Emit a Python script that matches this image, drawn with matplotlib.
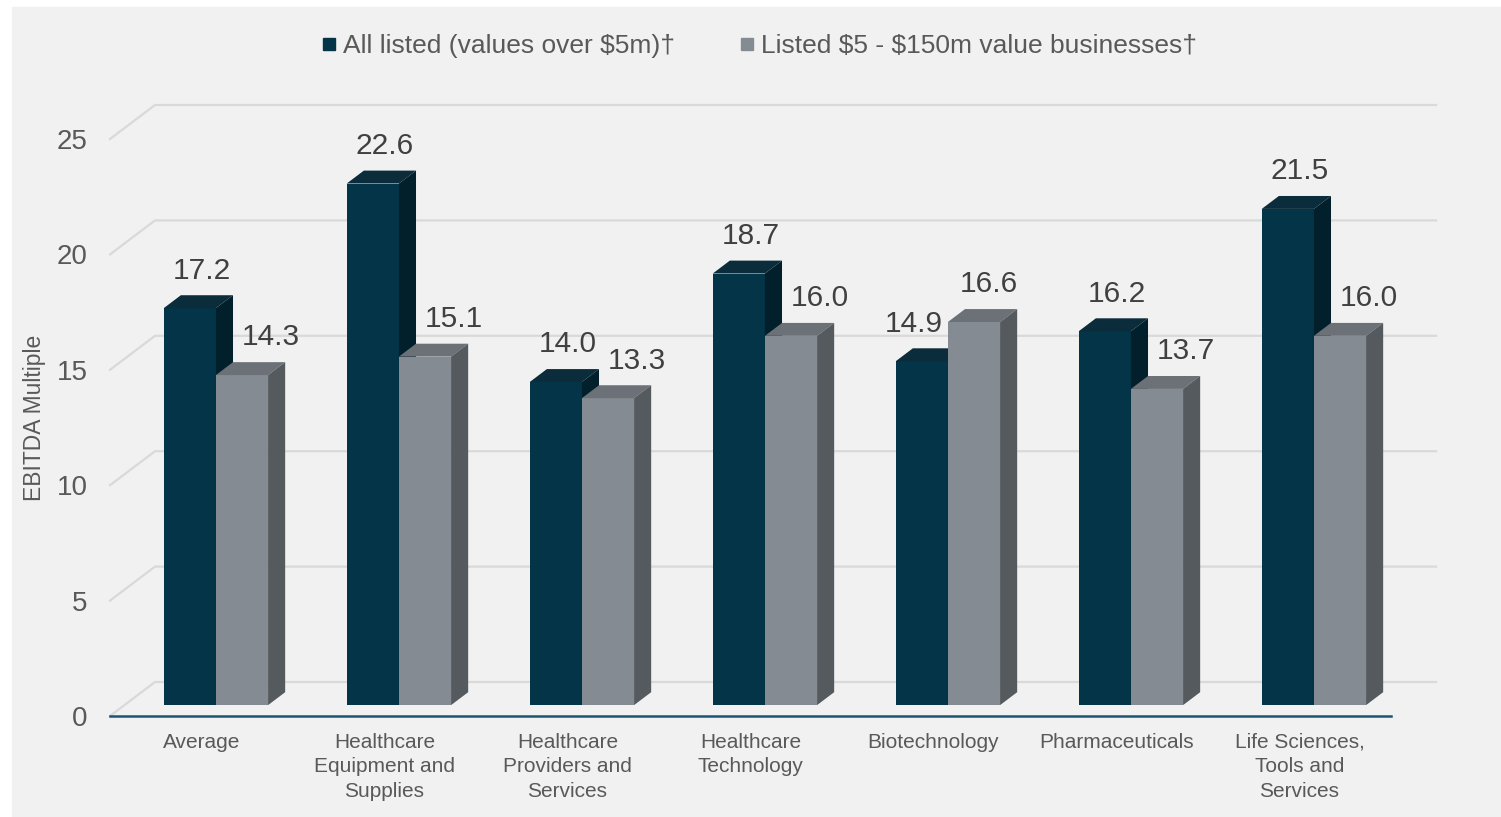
import matplotlib.pyplot as plt
from matplotlib.patches import Polygon, Rectangle
from matplotlib.lines import Line2D

plt.rcParams['font.family'] = ['Liberation Sans', 'DejaVu Sans']

categories = ['Average', 'Healthcare\nEquipment and\nSupplies',
              'Healthcare\nProviders and\nServices', 'Healthcare\nTechnology',
              'Biotechnology', 'Pharmaceuticals',
              'Life Sciences,\nTools and\nServices']
all_listed = [17.2, 22.6, 14.0, 18.7, 14.9, 16.2, 21.5]
small_listed = [14.3, 15.1, 13.3, 16.0, 16.6, 13.7, 16.0]
series_names = ['All listed (values over \\$5m)\u2020',
                'Listed \\$5 - \\$150m value businesses\u2020']
yticks = [0, 5, 10, 15, 20, 25]

# face colours: front, top, side
dark = ('#033447', '#0b2c3a', '#01202b')
grey = ('#858b92', '#6b7176', '#555a5f')

# fake 3d depth (in data units) of the whole floor, and where bars sit in it
DX, DY = 0.246, 1.473
d0, d1 = 0.32, 0.70
bar_w = 0.285


def draw_bar(ax, x, h, cols, z):
    """front face through ax.bar, top and side as polygons"""
    fx, fy = d0 * DX, d0 * DY
    bx, by = (d1 - d0) * DX, (d1 - d0) * DY
    x0 = x + fx
    ax.bar(x0, h, bar_w, bottom=fy, align='edge', color=cols[0],
           zorder=z, linewidth=0)
    top = [(x0, fy + h), (x0 + bar_w, fy + h),
           (x0 + bar_w + bx, fy + h + by), (x0 + bx, fy + h + by)]
    side = [(x0 + bar_w, fy), (x0 + bar_w + bx, fy + by),
            (x0 + bar_w + bx, fy + h + by), (x0 + bar_w, fy + h)]
    ax.add_patch(Polygon(top, closed=True, color=cols[1], zorder=z, lw=0))
    ax.add_patch(Polygon(side, closed=True, color=cols[2], zorder=z, lw=0))


fig = plt.figure(figsize=(15.01, 8.17), dpi=100, facecolor='white')
fig.patches.append(Rectangle((12 / 1501, 0), 1, 1 - 7 / 817,
                             transform=fig.transFigure, color='#f1f1f1',
                             zorder=-5))
ax = fig.add_axes([110 / 1501, 101 / 817, 1281 / 1501, 577 / 817])
ax.set_facecolor('none')
ax.set_xlim(-0.5, 6.5)
ax.set_ylim(0, 25)

n = len(categories)
# gridlines: short diagonal on the left wall + line along the back wall
for v in yticks:
    ax.plot([-0.5, -0.5 + DX, n - 0.5 + DX], [v, v + DY, v + DY],
            color='#d9d9d9', lw=1.6, clip_on=False, zorder=1)

for i in range(n):
    draw_bar(ax, i - bar_w, all_listed[i], dark, 3)
    draw_bar(ax, i, small_listed[i], grey, 4)
    # labels get pushed left when the grey bar is the taller one
    shift = 0.11 if small_listed[i] > all_listed[i] else 0.0
    ax.text(i - shift, all_listed[i] + 2.1, f'{all_listed[i]:.1f}',
            ha='center', va='center', fontsize=21.5, color='#404040',
            zorder=6)
    ax.text(i + 0.377 - 0.7 * shift, small_listed[i] + 2.1,
            f'{small_listed[i]:.1f}', ha='center', va='center',
            fontsize=21.5, color='#404040', zorder=6)

for s in ['top', 'right', 'left']:
    ax.spines[s].set_visible(False)
ax.spines['bottom'].set_color('#1c5570')
ax.spines['bottom'].set_linewidth(1.8)
ax.set_yticks(yticks)
ax.set_xticks(range(n))
ax.set_xticklabels(categories, linespacing=1.38)
ax.tick_params(axis='y', length=0, pad=16, labelsize=20, labelcolor='#595959')
ax.tick_params(axis='x', length=0, pad=12, labelsize=15, labelcolor='#595959')
ax.set_ylabel('EBITDA Multiple', fontsize=16.5, color='#595959')
ax.yaxis.set_label_coords(-0.05, 0.516)

handles = [Line2D([], [], ls='none', marker='s', ms=9, color=dark[0]),
           Line2D([], [], ls='none', marker='s', ms=9, color=grey[0])]
fig.legend(handles, series_names, loc='center', ncol=2, frameon=False,
           bbox_to_anchor=(759 / 1501, 1 - 46 / 817), fontsize=19,
           labelcolor='#595959', handlelength=0.6, handletextpad=0.25,
           columnspacing=2.4)

fig.savefig('out.png', dpi=100, facecolor=fig.get_facecolor())
